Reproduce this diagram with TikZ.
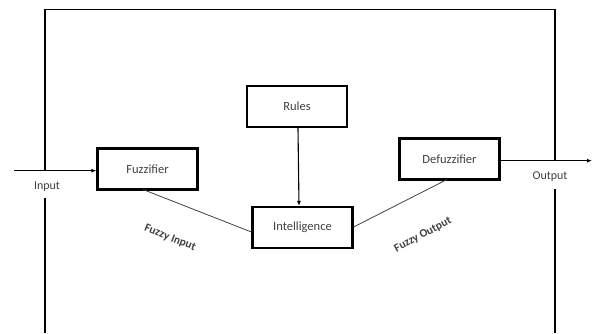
\documentclass[tikz,border=0pt]{standalone}
\usepackage{fontspec}
\setmainfont{Carlito}
\usetikzlibrary{arrows.meta}
\begin{document}
\begin{tikzpicture}[x=1pt,y=-1pt,
  blk/.style={draw,line width=2.2pt,minimum width=100pt,minimum height=41pt,inner sep=0pt,font=\fontsize{12.5}{14}\selectfont,text=black!75},
  lbl/.style={font=\fontsize{12}{14}\selectfont,text=black!75,inner sep=0pt},
  frame/.style={line width=1.5pt},
  link/.style={line width=0.8pt,black!75},
  arr/.style={line width=1.1pt,-{Latex[length=5pt,width=4pt]}}]
\useasboundingbox (0,0) rectangle (592,333);
\node[blk] (fuzz) at (147.5,169) {Fuzzifier};
\node[blk] (rules) at (297,106.5) {Rules};
\node[blk] (intel) at (302.5,227.5) {Intelligence};
\node[blk] (defuzz) at (449.5,159) {Defuzzifier};
\node[lbl] (input) at (47,187) {Input};
\node[lbl] (output) at (550,177) {Output};
\node[lbl,rotate=-22,font=\fontsize{11.5}{13}\selectfont\bfseries] (fin) at (170,238) {Fuzzy Input};
\node[lbl,rotate=28,font=\fontsize{11.5}{13}\selectfont\bfseries] (fout) at (423,235) {Fuzzy Output};
\coordinate (inS) at (14,170.7);
\coordinate (outE) at (592,160.7);
\coordinate (ftl) at (45,333);
\coordinate (ftl2) at (45,9.5);
\coordinate (ftr) at (555,9.5);
\coordinate (fbr) at (555,333);
\draw[frame] (45,170.7) -- (ftl2) -- (ftr) -- (555,160.7);
\draw[frame] (ftl) -- (45,198);
\draw[frame] (fbr) -- (555,189);
\draw[arr] (inS) -- (fuzz.west |- inS);
\draw[arr] (defuzz.east |- outE) -- (outE);
\draw[arr] (rules.south -| 298,0) -- (intel.north -| 299,0);
\draw[link] (143,189.5) -- (intel.west |- 0,232);
\draw[link] (intel.east |- 0,227) -- (447,179.5);
\end{tikzpicture}
\end{document}
